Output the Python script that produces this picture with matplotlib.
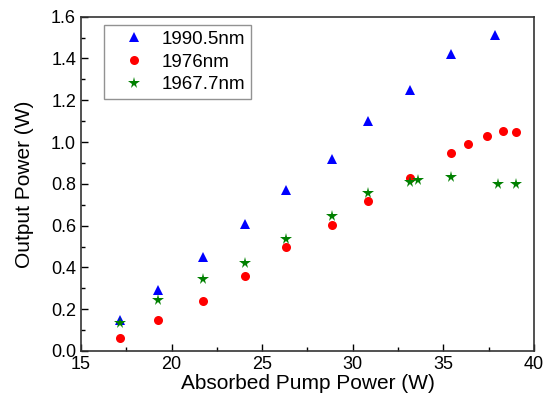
import numpy as np
import matplotlib
matplotlib.use('Agg')
import matplotlib.pyplot as plt
from matplotlib.ticker import MultipleLocator

plt.rcParams['font.family'] = ['Liberation Sans', 'DejaVu Sans']

# 1990.5 nm
x_a = [17.15, 19.25, 21.75, 24.05, 26.32, 28.86, 30.83, 33.15, 35.41, 37.83]
y_a = [0.15, 0.29, 0.45, 0.61, 0.77, 0.92, 1.10, 1.25, 1.42, 1.51]
# 1976 nm
x_b = [17.15, 19.25, 21.75, 24.05, 26.32, 28.86, 30.83, 33.15, 35.41, 36.38, 37.38, 38.29, 38.99]
y_b = [0.064, 0.15, 0.24, 0.36, 0.50, 0.605, 0.718, 0.827, 0.949, 0.992, 1.03, 1.053, 1.05]
# 1967.7 nm
x_c = [17.15, 19.25, 21.75, 24.05, 26.32, 28.86, 30.83, 33.15, 33.6, 35.41, 38.0, 38.99]
y_c = [0.132, 0.243, 0.343, 0.42, 0.538, 0.648, 0.755, 0.81, 0.82, 0.831, 0.80, 0.80]

fig = plt.figure(figsize=(5.49, 4.17), dpi=100)
ax = fig.add_axes([0.1475, 0.1583, 0.8252, 0.8017])

ax.plot(x_a, y_a, '^', color='#0000ff', ms=7, mew=0, label='1990.5nm')
ax.plot(x_b, y_b, 'o', color='#ff0000', ms=6.5, mew=0, label='1976nm')
ax.plot(x_c, y_c, '*', color='#008000', ms=8.5, mew=0, label='1967.7nm')

ax.set_xlim(15, 40)
ax.set_ylim(0, 1.6)
ax.xaxis.set_major_locator(MultipleLocator(5))
ax.xaxis.set_minor_locator(MultipleLocator(2.5))
ax.yaxis.set_major_locator(MultipleLocator(0.2))
ax.yaxis.set_minor_locator(MultipleLocator(0.1))
ax.yaxis.set_major_formatter(matplotlib.ticker.FormatStrFormatter('%.1f'))
ax.tick_params(which='both', direction='in', top=False, right=False, labelsize=13)
ax.tick_params(which='major', length=5, width=1)
ax.tick_params(which='minor', length=3, width=1)
for s in ax.spines.values():
    s.set_linewidth(1.2)
    s.set_color('#333333')

ax.set_xlabel('Absorbed Pump Power (W)', fontsize=15, labelpad=1)
ax.set_ylabel('Output Power (W)', fontsize=15, labelpad=12)

leg = ax.legend(loc='upper left', bbox_to_anchor=(0.05, 0.975), fontsize=13.5,
                frameon=True, fancybox=False, edgecolor='#777777', borderaxespad=0,
                handletextpad=0.2, labelspacing=0.3, borderpad=0.3, handlelength=2.6)
leg.get_frame().set_linewidth(1)

fig.savefig('out.png')
